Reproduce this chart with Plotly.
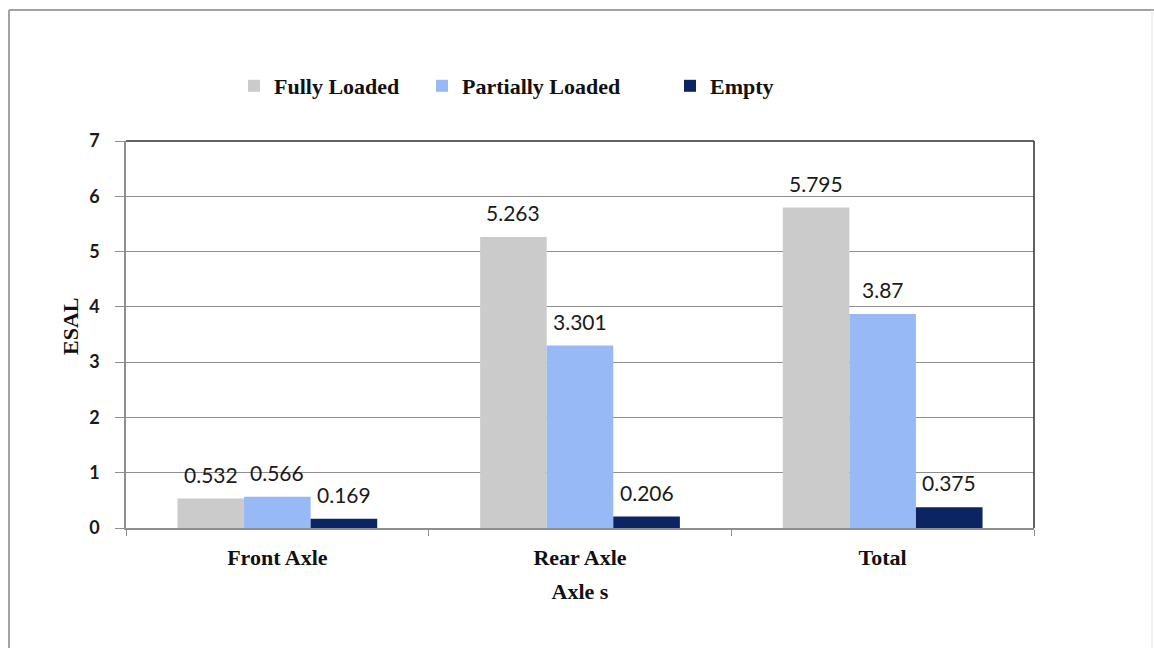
import plotly.graph_objects as go

# ESAL per axle group for each loading condition
categories = ["Front Axle", "Rear Axle", "Total"]
fully_loaded = [0.532, 5.263, 5.795]
partially_loaded = [0.566, 3.301, 3.87]
empty = [0.169, 0.206, 0.375]
y_ticks = [0, 1, 2, 3, 4, 5, 6, 7]

series = [
    ("Fully Loaded", fully_loaded, "#cbcbcb", "legend"),
    ("Partially Loaded", partially_loaded, "#97b9f6", "legend2"),
    ("Empty", empty, "#0b2462", "legend3"),
]

SERIF = "Liberation Serif, Times New Roman, serif"
SANS = "Lato, Open Sans, sans-serif"
BAR_GAP = 0.34
SERIF_BOLD = dict(family=SERIF, size=22, color="#111111", weight="bold")

# plot area in pixels: x 126..1034, y 141..528
L, R, T, B = 126, 1034, 141, 528
W, H = R - L, B - T


def px_x(p):
    return (p - L) / W


def px_y(p):
    return (B - p) / H


# width of one bar inside a group, used to centre value labels on their bars
cat_px = W / len(categories)
bar_px = cat_px * (1 - BAR_GAP) / len(series)

fig = go.Figure()
annotations = []
for i, (name, vals, color, leg) in enumerate(series):
    fig.add_trace(go.Bar(
        name=name,
        x=categories,
        y=vals,
        marker=dict(color=color, line=dict(width=0)),
        legend=leg,
        showlegend=True,
    ))
    offset = (i - (len(series) - 1) / 2) * bar_px
    for cat, v in zip(categories, vals):
        annotations.append(dict(
            x=cat, y=v, xref="x", yref="y",
            text=f"{v:g}", showarrow=False,
            xanchor="center", yanchor="bottom",
            xshift=offset, yshift=10,
            font=dict(family=SANS, size=21, color="#1a1a1a"),
        ))

# y-axis title
annotations.append(dict(
    x=px_x(70), y=px_y(327), xref="paper", yref="paper",
    text="ESAL", textangle=-90, showarrow=False,
    xanchor="center", yanchor="middle", font=SERIF_BOLD,
))

legend_common = dict(
    orientation="h", yanchor="middle", xanchor="left",
    font=SERIF_BOLD, bgcolor="rgba(0,0,0,0)", itemwidth=30,
)

shapes = [
    # outer chart frame
    dict(type="line", xref="paper", yref="paper",
         x0=px_x(9), x1=px_x(1154), y0=px_y(10), y1=px_y(10),
         line=dict(color="#a3a3a3", width=2)),
    dict(type="line", xref="paper", yref="paper",
         x0=px_x(9), x1=px_x(9), y0=px_y(10), y1=px_y(648),
         line=dict(color="#a3a3a3", width=2)),
    dict(type="line", xref="paper", yref="paper",
         x0=px_x(1152), x1=px_x(1152), y0=px_y(10), y1=px_y(648),
         line=dict(color="#e2e2e2", width=1)),
    # plot area border (top and right)
    dict(type="line", xref="paper", yref="paper",
         x0=0, x1=1, y0=1, y1=1, line=dict(color="#2e2e2e", width=1.5)),
    dict(type="line", xref="paper", yref="paper",
         x0=1, x1=1, y0=0, y1=1, line=dict(color="#2e2e2e", width=1.5)),
]

fig.update_layout(
    width=1154, height=648,
    margin=dict(l=L, r=1154 - R, t=T, b=648 - B, pad=0),
    paper_bgcolor="white", plot_bgcolor="white",
    barmode="group", bargap=BAR_GAP, bargroupgap=0,
    showlegend=True,
    shapes=shapes,
    annotations=annotations,
    legend=dict(x=px_x(234), y=px_y(86), **legend_common),
    legend2=dict(x=px_x(422), y=px_y(86), **legend_common),
    legend3=dict(x=px_x(670), y=px_y(86), **legend_common),
    xaxis=dict(
        showline=True, linecolor="#8f8f8f", linewidth=1.5,
        ticks="outside", tickson="boundaries", ticklen=6, tickcolor="#8f8f8f",
        tickfont=SERIF_BOLD,
        ticklabelstandoff=9,
        title=dict(text="Axle s", font=SERIF_BOLD, standoff=14),
        showgrid=False,
    ),
    yaxis=dict(
        range=[0, 7], tickvals=y_ticks,
        showline=True, linecolor="#8f8f8f", linewidth=1.5,
        ticks="outside", ticklen=9, tickcolor="#8f8f8f",
        showgrid=True, gridcolor="#8f8f8f", gridwidth=1,
        zeroline=False,
        tickfont=dict(family=SANS, size=18, color="#1a1a1a", weight="bold"),
        ticklabelstandoff=12,
    ),
)

fig.write_html("out.html")
